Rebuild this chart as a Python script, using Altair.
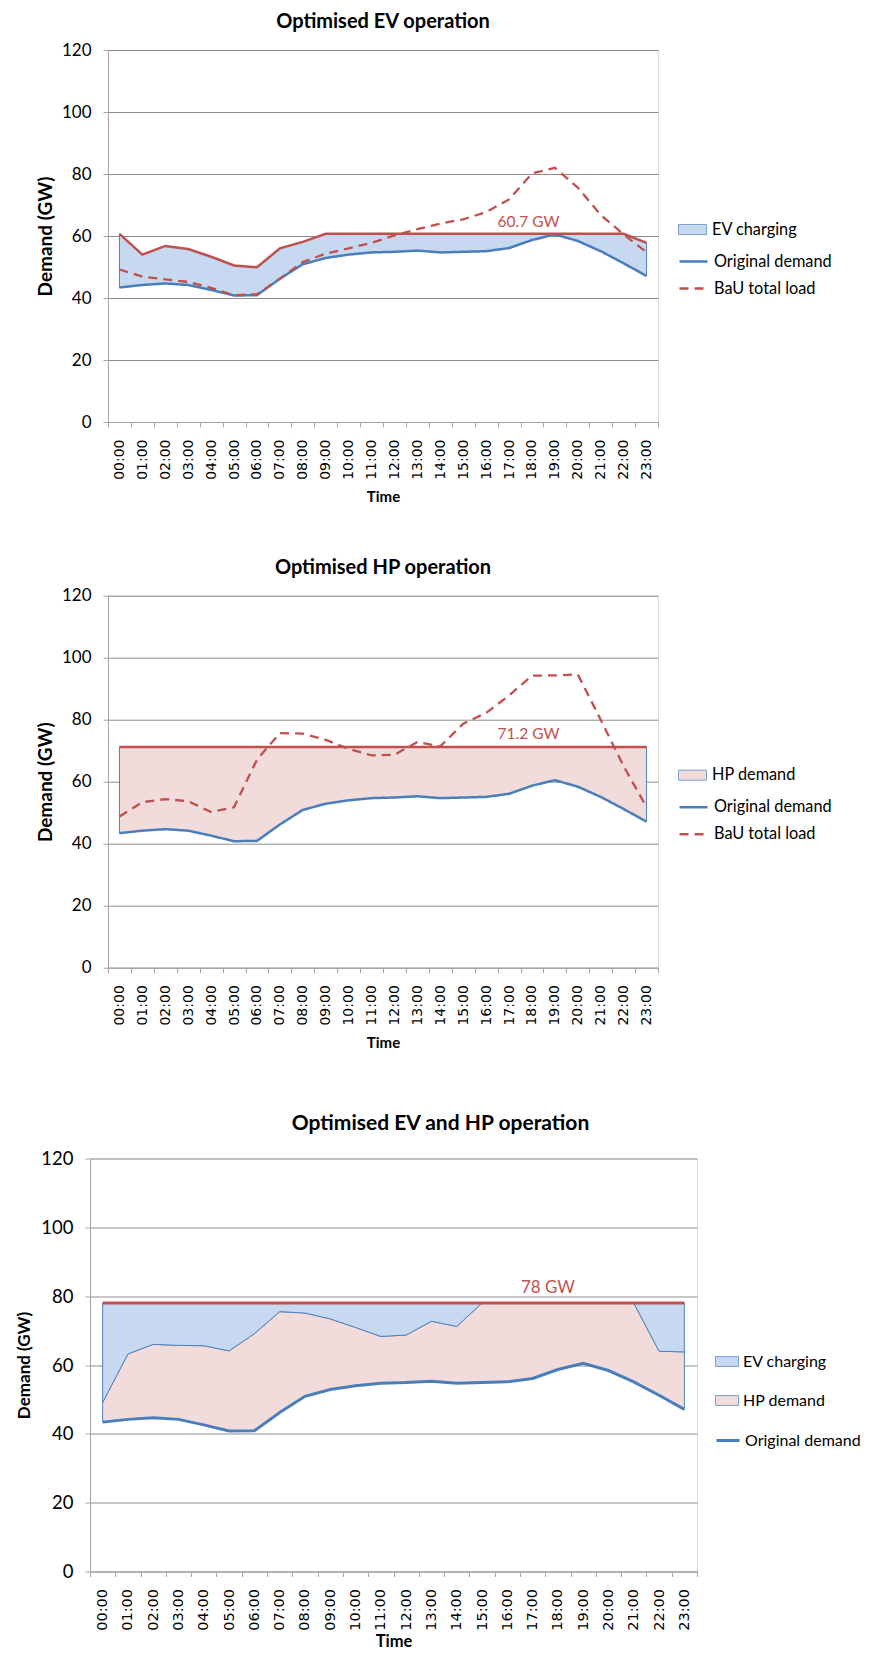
import altair as alt
import pandas as pd

# ---------------- data ----------------
hours = ["00:00", "01:00", "02:00", "03:00", "04:00", "05:00", "06:00", "07:00",
         "08:00", "09:00", "10:00", "11:00", "12:00", "13:00", "14:00", "15:00",
         "16:00", "17:00", "18:00", "19:00", "20:00", "21:00", "22:00", "23:00"]

original_demand = [43.4, 44.2, 44.7, 44.2, 42.6, 40.8, 40.9, 46.2, 50.9, 52.9, 54.0, 54.7,
                   54.9, 55.3, 54.7, 54.9, 55.1, 56.1, 58.7, 60.5, 58.4, 55.1, 51.2, 47.1]

# chart 1: optimised EV
ev_total_load = [60.7, 54.0, 56.8, 55.8, 53.3, 50.5, 49.9, 56.0, 58.1, 60.7, 60.7, 60.7,
                 60.7, 60.7, 60.7, 60.7, 60.7, 60.7, 60.7, 60.7, 60.7, 60.7, 60.7, 57.8]
bau_load_ev = [49.2, 46.9, 46.0, 45.2, 43.3, 40.9, 41.2, 46.2, 51.6, 54.3, 56.0, 57.8,
               60.2, 62.2, 64.0, 65.4, 67.7, 71.8, 80.2, 82.0, 75.6, 66.8, 60.5, 54.8]

# chart 2: optimised HP
hp_peak = 71.2
bau_load_hp = [48.8, 53.4, 54.4, 53.7, 50.2, 51.8, 67.1, 75.7, 75.5, 73.5, 70.6, 68.5,
               68.7, 72.8, 71.4, 78.7, 82.2, 87.8, 94.2, 94.3, 94.6, 80.0, 65.0, 51.8]

# chart 3: optimised EV + HP (top of HP demand band)
ev_hp_hp_top = [49.1, 63.2, 66.0, 65.7, 65.6, 64.1, 69.1, 75.5, 75.1, 73.4, 70.9, 68.3,
                68.7, 72.7, 71.2, 78.0, 78.0, 78.0, 78.0, 78.0, 78.0, 78.0, 64.0, 63.8]
ev_hp_peak = 78.0

# annotations
ann_labels = ["60.7 GW", "71.2 GW", "78 GW"]
ann_hours = ["18:00", "18:00", "18:00"]
ann_values = [64.5, 75.3, 82.3]

y_ticks = [0, 20, 40, 60, 80, 100, 120]

# ---------------- styles ----------------
RED = "#c0504d"
BLUE = "#4a7ebb"
EV_FILL = "#c6d9f1"
HP_FILL = "#f2dcdb"
EDGE = "#4f81bd"
GRID = "#8c8c8c"
AXISC = "#a6a6a6"
FONT = "Lato"
TICKFONT = "DejaVu Sans"

RECT1 = "M-1,-0.36H1V0.36H-1Z"
RECT3 = "M-1,-0.43H1V0.43H-1Z"
IND = dict(fill="independent", stroke="independent", strokeDash="independent")


def x_enc(label_size, label_pad, title_size, title_pad):
    return alt.X(
        "hour:O",
        scale=alt.Scale(type="band", domain=hours, paddingInner=0, paddingOuter=0),
        bandPosition=0.5,
        axis=alt.Axis(
            title="Time", tickBand="extent", labelAngle=270, grid=False,
            labelFont=TICKFONT, labelFontSize=label_size, labelColor="black",
            labelPadding=label_pad, tickSize=5, tickColor=AXISC, domainColor=AXISC,
            titleFont=FONT, titleFontSize=title_size, titleFontWeight="bold",
            titleColor="black", titlePadding=title_pad,
        ),
    )


def y_enc(field, label_size, title_size, title_pad):
    return alt.Y(
        field,
        scale=alt.Scale(domain=[0, 120], nice=False, zero=True),
        axis=alt.Axis(
            title="Demand (GW)", values=y_ticks, grid=True, gridColor=GRID,
            domainColor=AXISC, tickColor=AXISC, tickSize=5,
            labelFont=FONT, labelFontSize=label_size, labelColor="black", labelPadding=12,
            titleFont=FONT, titleFontSize=title_size, titleFontWeight="bold",
            titleColor="black", titlePadding=title_pad,
        ),
    )


def area_legend(rect, size, lx, ly, fsize, rowpad, loff=5):
    return alt.Legend(
        title=None, orient="none", legendX=lx, legendY=ly, symbolType=rect,
        symbolSize=size, symbolStrokeColor="#7da0cf", symbolStrokeWidth=1,
        symbolOpacity=1, labelFont=FONT, labelFontSize=fsize, labelFontWeight="normal",
        labelColor="black", labelOffset=loff, rowPadding=rowpad,
    )


def line_legend(size, width, lx, ly, fsize, rowpad, loff=5):
    return alt.Legend(
        title=None, orient="none", legendX=lx, legendY=ly, symbolType="stroke",
        symbolSize=size, symbolStrokeWidth=width, symbolOpacity=1,
        labelFont=FONT, labelFontSize=fsize, labelFontWeight="normal", labelColor="black",
        labelOffset=loff, rowPadding=rowpad,
    )


Y1 = dict(label_size=17, title_size=19, title_pad=6.3)
Y3 = dict(label_size=18.5, title_size=17, title_pad=7.7)

# ---------------- chart 1 ----------------
df1 = pd.DataFrame({"hour": hours, "original": original_demand,
                    "total": ev_total_load, "bau": bau_load_ev})
lines1 = ["Original demand", "BaU total load"]
fill1 = alt.Fill("series:N", scale=alt.Scale(domain=["EV charging"], range=[EV_FILL]),
                 legend=area_legend(RECT1, 784, 570, 165, 16.3, 3))
leg_l1 = line_legend(784, 2.5, 570, 196, 16.3, 3)
stroke1 = alt.Stroke("series:N", scale=alt.Scale(domain=lines1, range=[BLUE, RED]), legend=leg_l1)
dash1 = alt.StrokeDash("series:N", scale=alt.Scale(domain=lines1, range=[[1, 0], [9, 6]]), legend=leg_l1)

X1 = x_enc(14, 12, 15, 10)
b1 = alt.Chart(df1)
ann1 = pd.DataFrame({"hour": ann_hours[:1], "value": ann_values[:1], "label": ann_labels[:1]})
c1 = alt.layer(
    b1.mark_area(stroke=EDGE, strokeWidth=1, opacity=1).encode(
        x=X1, y=y_enc("original:Q", **Y1), y2="total:Q", fill=fill1
    ).transform_calculate(series="'EV charging'"),
    b1.mark_line(strokeWidth=2.5).encode(
        x=X1, y=y_enc("original:Q", **Y1), stroke=stroke1, strokeDash=dash1
    ).transform_calculate(series="'Original demand'"),
    b1.mark_line(strokeWidth=2.5, color=RED).encode(
        x=X1, y=y_enc("total:Q", **Y1)
    ),
    b1.mark_line(strokeWidth=2.3).encode(
        x=X1, y=y_enc("bau:Q", **Y1), stroke=stroke1, strokeDash=dash1
    ).transform_calculate(series="'BaU total load'"),
    alt.Chart(ann1).mark_text(font=FONT, fontSize=15.5, color=RED, dx=-3.4, baseline="middle")
    .encode(x=X1, y=y_enc("value:Q", **Y1), text="label:N"),
).properties(
    width=550, height=372,
    title=alt.Title("Optimised EV operation", font=FONT, fontSize=20, fontWeight="bold",
                    color="black", anchor="middle", frame="group", offset=9),
)

# ---------------- chart 2 ----------------
df2 = pd.DataFrame({"hour": hours, "original": original_demand,
                    "cap": [hp_peak] * len(hours), "bau": bau_load_hp})
fill2 = alt.Fill("series:N", scale=alt.Scale(domain=["HP demand"], range=[HP_FILL]),
                 legend=area_legend(RECT1, 784, 570, 165, 16.3, 3))
leg_l2 = line_legend(784, 2.5, 570, 196, 16.3, 3)
stroke2 = alt.Stroke("series:N", scale=alt.Scale(domain=lines1, range=[BLUE, RED]), legend=leg_l2)
dash2 = alt.StrokeDash("series:N", scale=alt.Scale(domain=lines1, range=[[1, 0], [9, 6]]), legend=leg_l2)

b2 = alt.Chart(df2)
ann2 = pd.DataFrame({"hour": ann_hours[1:2], "value": ann_values[1:2], "label": ann_labels[1:2]})
c2 = alt.layer(
    b2.mark_area(stroke=EDGE, strokeWidth=1, opacity=1).encode(
        x=X1, y=y_enc("original:Q", **Y1), y2="cap:Q", fill=fill2
    ).transform_calculate(series="'HP demand'"),
    b2.mark_line(strokeWidth=2.5).encode(
        x=X1, y=y_enc("original:Q", **Y1), stroke=stroke2, strokeDash=dash2
    ).transform_calculate(series="'Original demand'"),
    b2.mark_line(strokeWidth=2.5, color=RED).encode(
        x=X1, y=y_enc("cap:Q", **Y1)
    ),
    b2.mark_line(strokeWidth=2.3).encode(
        x=X1, y=y_enc("bau:Q", **Y1), stroke=stroke2, strokeDash=dash2
    ).transform_calculate(series="'BaU total load'"),
    alt.Chart(ann2).mark_text(font=FONT, fontSize=15.5, color=RED, dx=-3.4, baseline="middle")
    .encode(x=X1, y=y_enc("value:Q", **Y1), text="label:N"),
).properties(
    width=550, height=372,
    title=alt.Title("Optimised HP operation", font=FONT, fontSize=20, fontWeight="bold",
                    color="black", anchor="middle", frame="group", offset=9),
)

# ---------------- chart 3 ----------------
df3 = pd.DataFrame({"hour": hours, "original": original_demand,
                    "hp_top": ev_hp_hp_top, "cap": [ev_hp_peak] * len(hours)})
areas3 = ["EV charging", "HP demand"]
fill3 = alt.Fill("series:N", scale=alt.Scale(domain=areas3, range=[EV_FILL, HP_FILL]),
                 legend=area_legend(RECT3, 529, 625, 191, 16, 19, loff=4))
stroke3 = alt.Stroke("series:N", scale=alt.Scale(domain=["Original demand"], range=[BLUE]),
                     legend=line_legend(529, 3, 625, 269, 16, 19, loff=4))

X3 = x_enc(14.5, 12, 16.5, 3)
b3 = alt.Chart(df3)
ann3 = pd.DataFrame({"hour": ann_hours[2:], "value": ann_values[2:], "label": ann_labels[2:]})
c3 = alt.layer(
    b3.mark_area(stroke=EDGE, strokeWidth=1, opacity=1).encode(
        x=X3, y=y_enc("original:Q", **Y3), y2="hp_top:Q", fill=fill3
    ).transform_calculate(series="'HP demand'"),
    b3.mark_area(stroke=EDGE, strokeWidth=1, opacity=1).encode(
        x=X3, y=y_enc("hp_top:Q", **Y3), y2="cap:Q", fill=fill3
    ).transform_calculate(series="'EV charging'"),
    b3.mark_line(strokeWidth=3).encode(
        x=X3, y=y_enc("original:Q", **Y3), stroke=stroke3
    ).transform_calculate(series="'Original demand'"),
    b3.mark_line(strokeWidth=3, color=RED).encode(
        x=X3, y=y_enc("cap:Q", **Y3)
    ),
    alt.Chart(ann3).mark_text(font=FONT, fontSize=17, color=RED, dx=-10, baseline="middle")
    .encode(x=X3, y=y_enc("value:Q", **Y3), text="label:N"),
).properties(
    width=607, height=413,
    title=alt.Title("Optimised EV and HP operation", font=FONT, fontSize=21, fontWeight="bold",
                    color="black", anchor="middle", frame="group", offset=16, dx=47),
)

# ---------------- layout ----------------
def spacer(w):
    return alt.Chart(pd.DataFrame({"v": [0]})).mark_point(opacity=0).properties(width=w, height=10)

row1 = alt.hconcat(spacer(23.7), c1, spacing=0).resolve_scale(**IND).resolve_legend(**IND)
row2 = alt.hconcat(spacer(23.7), c2, spacing=0).resolve_scale(**IND).resolve_legend(**IND)
row3 = alt.hconcat(spacer(0.5), c3, spacing=0).resolve_scale(**IND).resolve_legend(**IND)
top = alt.vconcat(row1, row2, spacing=51.7).resolve_scale(**IND).resolve_legend(**IND)
chart = alt.vconcat(top, row3, spacing=60.5).resolve_scale(**IND).resolve_legend(**IND).properties(
    padding={"left": 0, "top": 3, "right": 0, "bottom": 0}
).configure_view(stroke=None).configure(background="white")

chart.save("out.html", embed_options={"renderer": "svg", "actions": False})
